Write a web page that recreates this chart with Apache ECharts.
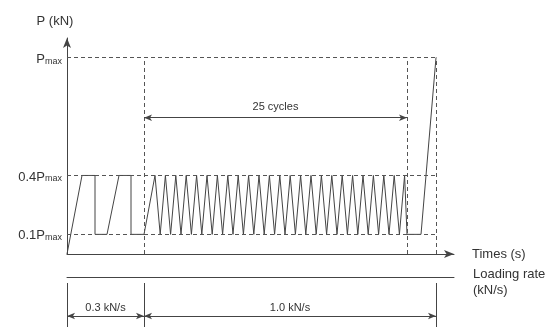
<!DOCTYPE html>
<html>
<head>
<meta charset="utf-8">
<script src="https://cdn.jsdelivr.net/npm/echarts@6/dist/echarts.min.js"></script>
<style>
html,body{margin:0;padding:0;background:#fff;}
#chart{width:553px;height:327px;}
</style>
</head>
<body>
<div id="chart"></div>
<script>
// ---- data (time in arbitrary schematic units, load as fraction of Pmax) ----
const loadLevels = [0.1, 0.4, 1.0];
const levelCoefficients = ['0.1', '0.4', ''];
const preloadTimes = [0, 15, 28, 28, 40, 52, 64, 64, 77];
const preloadLoads = [0, 0.4, 0.4, 0.1, 0.1, 0.4, 0.4, 0.1, 0.1];
const cyclePeakTimes = [88, 98.4, 108.8, 119.2, 129.6, 140, 150.4, 160.8, 171.2, 181.6, 192, 202.4, 212.8,
  223.2, 233.6, 244, 254.4, 264.8, 275.2, 285.6, 296, 306.4, 316.8, 327.2, 337.6];
const cycleValleyTimes = [93.2, 103.6, 114, 124.4, 134.8, 145.2, 155.6, 166, 176.4, 186.8, 197.2, 207.6, 218,
  228.4, 238.8, 249.2, 259.6, 270, 280.4, 290.8, 301.2, 311.6, 322, 332.4, 340];
const cycleHigh = 0.4;
const cycleLow = 0.1;
const finalTimes = [354, 369];
const finalLoads = [0.1, 1.0];
const phaseBounds = [77, 340, 369];   // start of cycling, end of cycling, failure
const rateBounds = [0, 77, 369];
const rateLabels = ['0.3 kN/s', '1.0 kN/s'];
const cycleLabel = '25 cycles';
const xName = 'Times (s)';
const yName = 'P (kN)';
const rateName = 'Loading rate\n(kN/s)';

// ---- build the series ----
const seq = [];
preloadTimes.forEach((t, i) => seq.push([t, preloadLoads[i]]));
cyclePeakTimes.forEach((t, i) => {
  seq.push([t, cycleHigh]);
  seq.push([cycleValleyTimes[i], cycleLow]);
});
finalTimes.forEach((t, i) => seq.push([t, finalLoads[i]]));

const FONT = "'Liberation Sans', Arial, sans-serif";
const INK = '#444';
const TXT = '#333';
const tEnd = finalTimes[finalTimes.length - 1];
const pmax = loadLevels[2];

const dashed = { color: '#555', width: 1, type: [4, 3] };
const refLines = [];
loadLevels.forEach(v => refLines.push([{ coord: [0, v], lineStyle: dashed }, { coord: [tEnd, v] }]));
phaseBounds.forEach(t => refLines.push([{ coord: [t, 0], lineStyle: dashed }, { coord: [t, pmax] }]));
refLines.push([
  { coord: [phaseBounds[0], 0.694], symbol: 'arrow', lineStyle: { color: INK, width: 1, type: 'solid' },
    label: { show: true, position: 'middle', formatter: cycleLabel, distance: 5, color: TXT, fontSize: 11, fontFamily: FONT } },
  { coord: [phaseBounds[1], 0.694], symbol: 'arrow' }
]);

const rateLines = [];
rateBounds.forEach(t => rateLines.push([{ coord: [t, 0] }, { coord: [t, 0.88] }]));
for (let i = 0; i < rateLabels.length; i++) {
  rateLines.push([
    { coord: [rateBounds[i], 0.22], symbol: 'arrow',
      label: { show: true, position: 'middle', formatter: rateLabels[i], distance: 3, color: TXT, fontSize: 11, fontFamily: FONT } },
    { coord: [rateBounds[i + 1], 0.22], symbol: 'arrow' }
  ]);
}

const chart = echarts.init(document.getElementById('chart'), null, { renderer: 'canvas' });
chart.setOption({
  animation: false,
  backgroundColor: '#fff',
  textStyle: { fontFamily: FONT },
  title: {
    text: rateName, left: 473, top: 266, padding: 0,
    textStyle: { color: TXT, fontSize: 13, fontWeight: 'normal', fontFamily: FONT, lineHeight: 16 }
  },
  grid: [
    { left: 67, right: 99, top: 38, bottom: 73, outerBoundsMode: 'none', containLabel: false },
    { left: 67, right: 99, top: 277, bottom: 0, outerBoundsMode: 'none', containLabel: false }
  ],
  xAxis: [
    {
      gridIndex: 0, type: 'value', min: 0, max: 387,
      axisLine: { show: true, onZero: false, lineStyle: { color: INK, width: 1 }, symbol: ['none', 'arrow'], symbolSize: [6, 10] },
      axisTick: { show: false }, axisLabel: { show: false }, splitLine: { show: false },
      name: xName, nameLocation: 'end', nameGap: 18, nameMoveOverlap: false,
      nameTextStyle: { color: TXT, fontSize: 13, fontFamily: FONT, align: 'left', verticalAlign: 'middle', padding: [0, 0, 4, 0] }
    },
    {
      gridIndex: 1, type: 'value', min: 0, max: 387, position: 'top',
      axisLine: { show: true, onZero: false, lineStyle: { color: INK, width: 1 } },
      axisTick: { show: false }, axisLabel: { show: false }, splitLine: { show: false }
    }
  ],
  yAxis: [
    {
      gridIndex: 0, type: 'value', min: 0, max: 1.1, interval: 0.1,
      axisLine: { show: true, onZero: false, lineStyle: { color: INK, width: 1 }, symbol: ['none', 'arrow'], symbolSize: [6, 10] },
      axisTick: { show: false }, splitLine: { show: false },
      axisLabel: {
        show: true, margin: 5, showMaxLabel: true,
        formatter: function (v) {
          const idx = loadLevels.findIndex(l => Math.abs(l - v) < 1e-6);
          if (idx < 0) return '';
          const c = levelCoefficients[idx];
          return (c ? '{n|' + c + '}' : '') + '{n|P}{s|max}';
        },
        rich: {
          n: { fontSize: 13, color: TXT, fontFamily: FONT, verticalAlign: 'bottom', lineHeight: 16 },
          s: { fontSize: 9, color: TXT, fontFamily: FONT, verticalAlign: 'bottom', lineHeight: 12 }
        }
      },
      name: yName, nameLocation: 'end', nameGap: 10, nameMoveOverlap: false,
      nameTextStyle: { color: TXT, fontSize: 13, fontFamily: FONT, align: 'center', padding: [0, 24, 0, 0] }
    },
    {
      gridIndex: 1, type: 'value', min: 0, max: 1, show: false
    }
  ],
  series: [
    {
      type: 'line', xAxisIndex: 0, yAxisIndex: 0, data: seq, symbol: 'none',
      lineStyle: { color: INK, width: 1 }, silent: true, z: 3,
      markLine: {
        silent: true, symbol: ['none', 'none'], symbolSize: [5, 8], animation: false,
        label: { show: false }, lineStyle: { color: INK, width: 1, type: 'solid' },
        emphasis: { disabled: true },
        data: refLines
      }
    },
    {
      type: 'line', xAxisIndex: 1, yAxisIndex: 1, data: [], symbol: 'none',
      markLine: {
        silent: true, symbol: ['none', 'none'], symbolSize: [5, 8], animation: false,
        label: { show: false }, lineStyle: { color: INK, width: 1, type: 'solid' },
        emphasis: { disabled: true },
        data: rateLines
      }
    }
  ]
});
</script>
</body>
</html>
